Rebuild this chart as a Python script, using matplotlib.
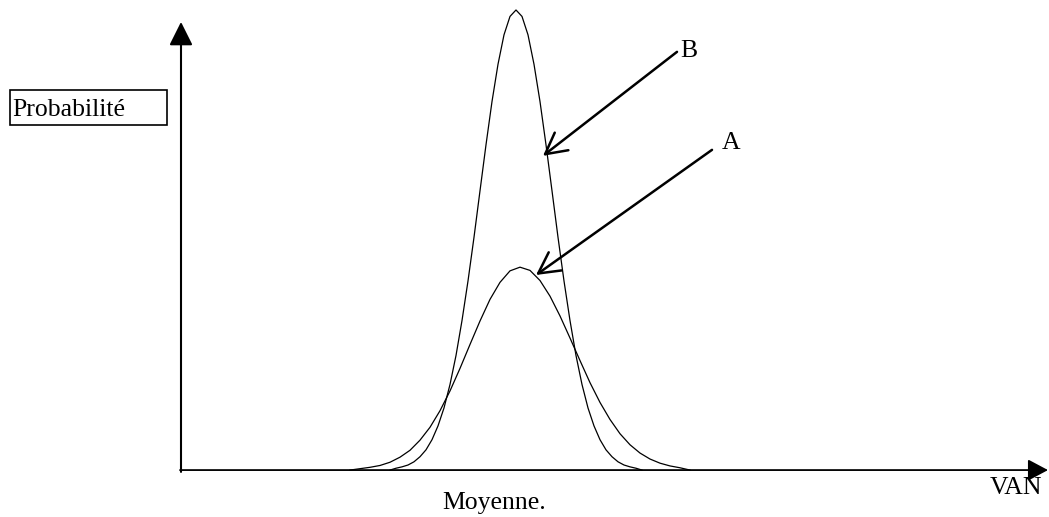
#!/usr/bin/env python3
"""
Sketch of two NPV (VAN) distributions with the same mean but different spread.
Writes out.png.
"""

import matplotlib
matplotlib.use('Agg')
import matplotlib.pyplot as plt
from matplotlib.patches import Rectangle

INK = 'black'

plt.rcParams.update({
    'font.family': ['Liberation Serif', 'DejaVu Serif'],
    'font.size': 18.5,
    'lines.solid_joinstyle': 'round',
})

# curve B : narrow distribution (x in VAN units, y in relative probability)
b_x = [2.08, 2.14, 2.20, 2.26, 2.32, 2.38, 2.44, 2.50, 2.56, 2.62, 2.68,
       2.74, 2.80, 2.86, 2.92, 2.98, 3.04, 3.10, 3.16, 3.22, 3.28, 3.34,
       3.40, 3.46, 3.52, 3.58, 3.64, 3.70, 3.76, 3.82, 3.88, 3.94, 4.00,
       4.06, 4.12, 4.18, 4.24, 4.30, 4.36, 4.42, 4.48, 4.54, 4.60]
b_y = [0.000, 0.004, 0.007, 0.011, 0.018, 0.029, 0.044, 0.066, 0.096, 0.135, 0.186,
       0.249, 0.325, 0.411, 0.506, 0.607, 0.707, 0.801, 0.882, 0.946, 0.986, 1.000,
       0.986, 0.946, 0.882, 0.801, 0.707, 0.607, 0.506, 0.411, 0.325, 0.249, 0.186,
       0.135, 0.096, 0.066, 0.044, 0.029, 0.018, 0.011, 0.007, 0.004, 0.000]

# curve A : wide distribution
a_x = [1.68, 1.78, 1.88, 1.98, 2.08, 2.18, 2.28, 2.38, 2.48, 2.58, 2.68, 2.78,
       2.88, 2.98, 3.08, 3.18, 3.28, 3.38, 3.48, 3.58, 3.68, 3.78, 3.88, 3.98,
       4.08, 4.18, 4.28, 4.38, 4.48, 4.58, 4.68, 4.78, 4.88, 4.98, 5.08]
a_y = [0.000, 0.003, 0.006, 0.010, 0.017, 0.028, 0.043, 0.065, 0.093, 0.129, 0.172, 0.221,
       0.273, 0.324, 0.371, 0.408, 0.433, 0.441, 0.434, 0.412, 0.378, 0.335, 0.287, 0.238,
       0.190, 0.147, 0.110, 0.079, 0.055, 0.037, 0.024, 0.015, 0.009, 0.005, 0.000]

# pointer arrows: (label, text x, text y, tail x, tail y, head x, head y)
pointer_labels = ['B', 'A']
pointer_tail = [(4.95, 0.909), (5.30, 0.696)]
pointer_head = [(3.61, 0.683), (3.54, 0.424)]
pointer_text = [(4.98, 0.898), (5.40, 0.697)]

Y_LABEL = 'Probabilité'
X_LABEL = 'VAN'
MEAN_LABEL = 'Moyenne.'


def main():
    fig = plt.figure(figsize=(10.49, 5.17), dpi=100)
    ax = fig.add_axes([0, 0, 1, 1])
    ax.set_xlim(-1.82, 8.67)
    ax.set_ylim(-0.102, 1.0217)
    ax.axis('off')

    # axes with filled arrow heads
    ax.annotate('', xy=(-0.01, 0.974), xytext=(-0.01, -0.004),
                arrowprops=dict(arrowstyle='-|>,head_length=0.72,head_width=0.36',
                                mutation_scale=20, lw=1.5, color=INK,
                                shrinkA=0, shrinkB=0))
    ax.annotate('', xy=(8.66, 0.0), xytext=(-0.02, 0.0),
                arrowprops=dict(arrowstyle='-|>,head_length=0.62,head_width=0.33',
                                mutation_scale=20, lw=1.3, color=INK,
                                shrinkA=0, shrinkB=0))

    ax.plot(b_x, b_y, color=INK, lw=0.9)
    ax.plot(a_x, a_y, color=INK, lw=0.9)

    for label, tail, head, txt in zip(pointer_labels, pointer_tail, pointer_head, pointer_text):
        ax.annotate('', xy=head, xytext=tail,
                    arrowprops=dict(arrowstyle='->,head_length=0.75,head_width=0.4',
                                    mutation_scale=20, lw=1.8, color=INK,
                                    shrinkA=0, shrinkB=0))
        ax.text(txt[0], txt[1], label, ha='left', va='baseline', color=INK)

    # boxed y label
    ax.add_patch(Rectangle((-1.72, 0.750), 1.57, 0.076, fill=False,
                           ec=INK, lw=1.2))
    ax.text(-1.70, 0.770, Y_LABEL, ha='left', va='baseline', color=INK)

    ax.text(2.60, -0.085, MEAN_LABEL, ha='left', va='baseline', color=INK)
    ax.text(8.08, -0.052, X_LABEL, ha='left', va='baseline', color=INK)

    fig.savefig('out.png', dpi=100, facecolor='white')
    plt.close(fig)


if __name__ == '__main__':
    main()
